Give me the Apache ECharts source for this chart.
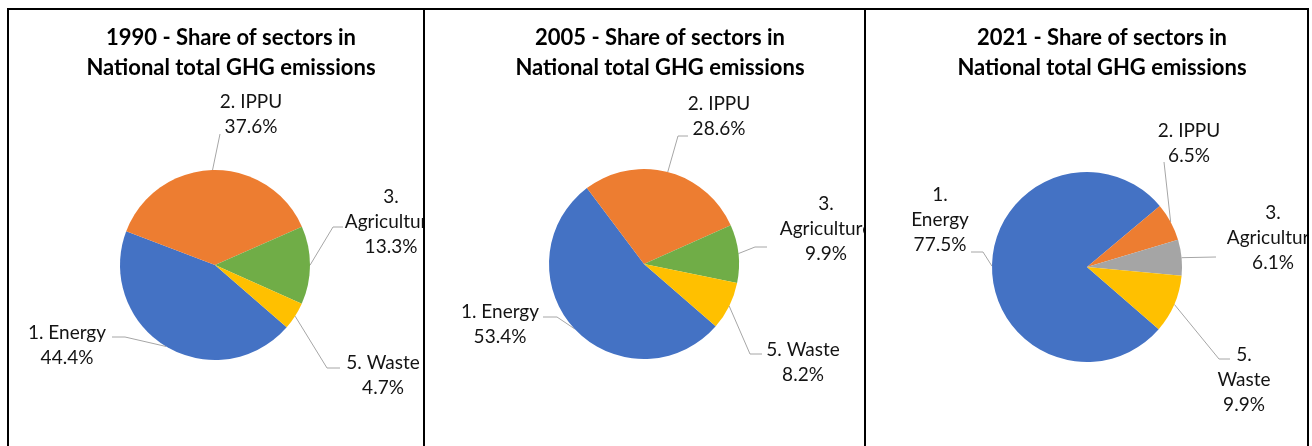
<!DOCTYPE html>
<html>
<head>
<meta charset="utf-8">
<title>Share of sectors in National total GHG emissions</title>
<script src="https://cdn.jsdelivr.net/npm/echarts@6/dist/echarts.min.js"></script>
<style>
  html, body { margin: 0; padding: 0; background: #ffffff; }
  body { position: relative; width: 1312px; height: 446px; overflow: hidden; }
  .panel { position: absolute; top: 10px; height: 436px; }
  .rule { position: absolute; background: #000000; }
</style>
</head>
<body>
<!-- table rules -->
<div class="rule" style="left:7px; top:8px; width:1302px; height:2px;"></div>
<div class="rule" style="left:7px; top:8px; width:2px; height:438px;"></div>
<div class="rule" style="left:423px; top:8px; width:2px; height:438px;"></div>
<div class="rule" style="left:864px; top:8px; width:2px; height:438px;"></div>
<div class="rule" style="left:1307px; top:8px; width:2px; height:438px;"></div>

<div id="p1990" class="panel" style="left:9px; width:414px;"></div>
<div id="p2005" class="panel" style="left:425px; width:439px;"></div>
<div id="p2021" class="panel" style="left:866px; width:441px;"></div>

<script>
// ---- data ----
const sectors = ['1. Energy', '2. IPPU', '3. Agriculture', '5. Waste'];
const years = ['1990', '2005', '2021'];
const share1990 = [44.4, 37.6, 13.3, 4.7];
const share2005 = [53.4, 28.6, 9.9, 8.2];
const share2021 = [77.5, 6.5, 6.1, 9.9];
const titleSuffix = ' - Share of sectors in\nNational total GHG emissions';

// ---- styling ----
const BLUE = '#4472C4', ORANGE = '#ED7D31', GREEN = '#70AD47', YELLOW = '#FFC000', GREY = '#A5A5A5';

// per-panel layout: pie centre, title centre, label centres and leader-line bends/ends (local px)
const panels = [
  {
    id: 'p1990', year: years[0], values: share1990,
    colors: [BLUE, ORANGE, GREEN, YELLOW],
    center: [206, 255], titleX: 222,
    wrap: [false, false, true, false],
    labelPos: [[58, 335], [242, 104], [382, 212], [374, 365]],
    leader: [[[116, 327], [103, 327]], [[211, 124]], [[324, 217], [334, 217]], [[318, 358], [331, 358]]]
  },
  {
    id: 'p2005', year: years[1], values: share2005,
    colors: [BLUE, ORANGE, GREEN, YELLOW],
    center: [219, 254], titleX: 235,
    wrap: [false, false, true, false],
    labelPos: [[75, 314], [294, 106], [401, 219], [378, 352]],
    leader: [[[132, 307], [118, 307]], [[253, 126], [263, 126]], [[330, 237], [342, 237]], [[325, 344], [337, 344]]]
  },
  {
    id: 'p2021', year: years[2], values: share2021,
    colors: [BLUE, ORANGE, GREY, YELLOW],
    center: [221, 257], titleX: 236,
    wrap: [true, false, true, true],
    labelPos: [[74, 210], [323, 133], [407, 228], [378, 370]],
    leader: [[[117, 242], [105, 242]], [[298, 152]], [[350, 247]], [[353, 349], [364, 349]]]
  }
];

panels.forEach(function (cfg) {
  const chart = echarts.init(document.getElementById(cfg.id), null, { renderer: 'canvas' });
  const data = sectors.map(function (name, i) {
    return { name: name, value: cfg.values[i], itemStyle: { color: cfg.colors[i] } };
  });
  chart.setOption({
    animation: false,
    backgroundColor: 'transparent',
    title: {
      text: cfg.year + titleSuffix,
      left: cfg.titleX,
      top: 13,
      padding: 0,
      textAlign: 'center',
      textStyle: {
        fontFamily: 'Lato', fontWeight: 'bold', fontSize: 22,
        lineHeight: 30, color: '#000000'
      }
    },
    series: [{
      type: 'pie',
      center: cfg.center,
      radius: 95,
      startAngle: -41,
      clockwise: true,
      avoidLabelOverlap: false,
      silent: true,
      data: data,
      itemStyle: { borderWidth: 0 },
      emphasis: { disabled: true },
      label: {
        show: true,
        position: 'outside',
        fontFamily: 'Lato',
        fontSize: 19,
        lineHeight: 25,
        color: '#141414',
        formatter: function (p) {
          const name = cfg.wrap[p.dataIndex] ? p.name.replace('. ', '.\n') : p.name;
          return name + '\n' + p.value.toFixed(1) + '%';
        }
      },
      labelLine: {
        show: true, length: 10, length2: 10,
        lineStyle: { color: '#A6A6A6', width: 1 }
      },
      labelLayout: function (params) {
        const i = params.dataIndex;
        const out = {
          x: cfg.labelPos[i][0],
          y: cfg.labelPos[i][1],
          align: 'center',
          verticalAlign: 'middle'
        };
        if (params.labelLinePoints && params.labelLinePoints.length) {
          out.labelLinePoints = [params.labelLinePoints[0]].concat(cfg.leader[i]);
        }
        return out;
      }
    }]
  });
});
</script>
</body>
</html>
